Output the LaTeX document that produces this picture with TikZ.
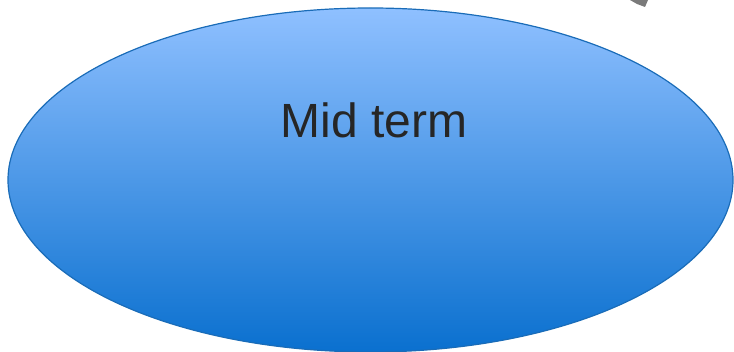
\documentclass[tikz,border=0pt]{standalone}
\usepackage{fontspec}
\setmainfont{Liberation Sans}
\usetikzlibrary{shapes.geometric}
\definecolor{topblue}{HTML}{8FC0FF}
\definecolor{midblue}{HTML}{78ADF2}
\definecolor{lowblue}{HTML}{0A70CF}
\definecolor{rimblue}{HTML}{1A6CB8}
\definecolor{inkgray}{HTML}{262626}
\begin{document}
\begin{tikzpicture}[x=1pt,y=1pt]
  \useasboundingbox (0,0) rectangle (734,-352);
  % piece of a gray arrow cut off at the top
  \fill[gray!70!black,opacity=0.8] (630,0) -- (648,0) -- (645,-7) -- (637,-4) -- cycle;
  % ellipse
  \node[ellipse,draw=rimblue,line width=1.2pt,minimum width=725pt,minimum height=344pt,
        top color=topblue,middle color=midblue,bottom color=lowblue,inner sep=0pt]
        (midterm) at (370.5,-180) {};
  \node[text=inkgray,font=\fontsize{48}{58}\selectfont,anchor=base] (label) at (374,-138) {Mid term};
\end{tikzpicture}
\end{document}
